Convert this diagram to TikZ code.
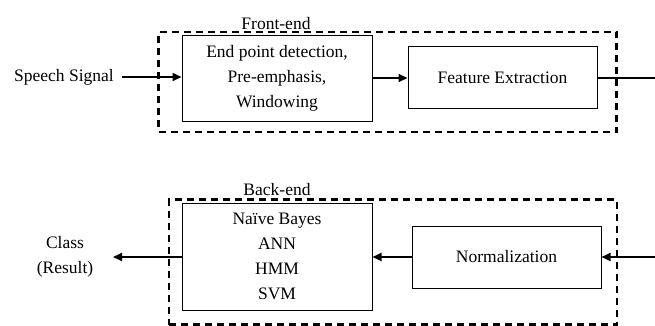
\documentclass[tikz,border=0pt]{standalone}
\usepackage{fontspec}
\setmainfont{Liberation Serif}
\usetikzlibrary{arrows.meta}
\begin{document}
\begin{tikzpicture}[x=1pt,y=-1pt,
  blk/.style={draw,line width=1pt,minimum width=#1,align=center,inner sep=0pt,
    font=\fontsize{17.5}{25}\selectfont},
  grp/.style={draw,dashed,line width=2.2pt,dash pattern=on 7pt off 5pt,inner sep=0pt},
  lbl/.style={font=\fontsize{17.5}{24.5}\selectfont,align=center,inner sep=0pt},
  conn/.style={line width=1.8pt,-{Triangle[length=9pt,width=8pt]}},
  plain/.style={line width=1.8pt}]
\useasboundingbox (0,0) rectangle (655,326);
% front end
\node[grp,minimum width=458pt,minimum height=100pt] (fe) at (387.5,82) {};
\node[lbl,anchor=south] (felbl) at (276,30) {Front-end};
\node[blk=190pt,minimum height=85pt] (b1) at (277,78.5) {End point detection,\\Pre-emphasis,\\Windowing};
\node[blk=189pt,minimum height=62pt] (b2) at (502.5,78) {Feature Extraction};
\node[lbl] (sp) at (64,77) {Speech Signal};
\coordinate (feout) at (655,78);
% back end
\node[grp,minimum width=448pt,minimum height=125pt] (be) at (393,262) {};
\node[lbl,anchor=south] (belbl) at (277,196) {Back-end};
\node[blk=190pt,minimum height=107pt] (b3) at (277,256.5) {Na\"ive Bayes\\ANN\\HMM\\SVM};
\node[blk=189pt,minimum height=62pt] (b4) at (506.5,257) {Normalization};
\node[lbl] (cls) at (65,257) {Class\\(Result)};
\coordinate (bein) at (655,257);
\coordinate (clsend) at (113,257);
% connectors
\draw[conn] ([xshift=8pt]sp.east) -- (b1.west|-sp.east);
\draw[conn] (b1.east|-b2.west) -- (b2.west);
\draw[plain] (b2.east) -- (feout);
\draw[conn] (bein) -- (b4.east);
\draw[conn] (b4.west) -- (b3.east|-b4.west);
\draw[conn] (b3.west|-b4.west) -- (clsend);
\end{tikzpicture}
\end{document}
